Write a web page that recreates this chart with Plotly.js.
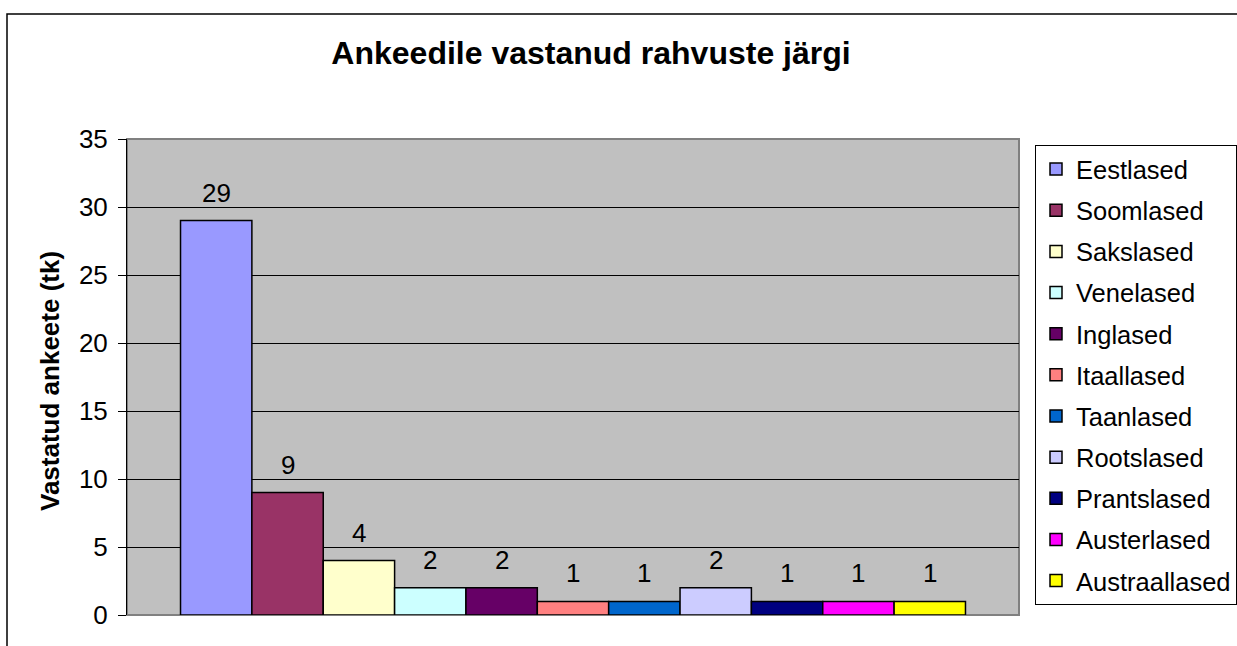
<!DOCTYPE html>
<html>
<head>
<meta charset="utf-8">
<script src="https://cdn.plot.ly/plotly-3.0.1.min.js"></script>
<style>
  html, body { margin: 0; padding: 0; background: #fff; }
  #chart { width: 1237px; height: 646px; }
</style>
</head>
<body>
<div id="chart"></div>
<script>
// ---- data ----
const nationalities = ["Eestlased", "Soomlased", "Sakslased", "Venelased", "Inglased",
  "Itaallased", "Taanlased", "Rootslased", "Prantslased", "Austerlased", "Austraallased"];
const counts = [29, 9, 4, 2, 2, 1, 1, 2, 1, 1, 1];
const colors = ["#9999FF", "#993366", "#FFFFCC", "#CCFFFF", "#660066",
  "#FF8080", "#0066CC", "#CCCCFF", "#000080", "#FF00FF", "#FFFF00"];
const yTicks = [0, 5, 10, 15, 20, 25, 30, 35];
const chartTitle = "Ankeedile vastanud rahvuste järgi";
const yTitle = "Vastatud ankeete (tk)";

// ---- layout geometry ----
const W = 1237, H = 646;
const mL = 127, mR = W - 1019, mT = 139, mB = H - 615;
const pw = W - mL - mR, ph = H - mT - mB;
const px = v => (v - mL) / pw;          // pixel x -> paper x
const py = v => (H - mB - v) / ph;      // pixel y -> paper y

const FONT = "Liberation Sans, Arial, Helvetica, sans-serif";
const FS = 26;

const traces = nationalities.map((name, i) => ({
  type: "bar",
  name: name,
  x: [i],
  y: [counts[i]],
  width: 1,
  legendgroup: "g" + i,
  marker: { color: colors[i], line: { color: "#000", width: 1.5 } },
  hoverinfo: "name+y"
}));

const annotations = counts.map((v, i) => ({
  x: i, y: v, xref: "x", yref: "y",
  text: String(v), showarrow: false,
  yanchor: "middle", yshift: 28,
  font: { family: FONT, size: FS, color: "#000" }
}));

annotations.push({
  xref: "paper", yref: "paper",
  x: px(50), y: py(381),
  text: "<b>" + yTitle + "</b>", textangle: -90,
  showarrow: false, xanchor: "center", yanchor: "middle",
  font: { family: FONT, size: FS, color: "#000" }
});

const layout = {
  width: W, height: H,
  margin: { l: mL, r: mR, t: mT, b: mB, pad: 0, autoexpand: false },
  paper_bgcolor: "#fff",
  plot_bgcolor: "#C0C0C0",
  font: { family: FONT, size: FS, color: "#000" },
  title: {
    text: "<b>" + chartTitle + "</b>",
    x: 591 / W, xref: "container", xanchor: "center",
    y: 1 - 53 / H, yref: "container", yanchor: "middle",
    font: { family: FONT, size: 32, color: "#000" }
  },
  barmode: "overlay",
  xaxis: {
    range: [-1.25, nationalities.length + 0.25],
    showticklabels: false, showgrid: false, zeroline: false,
    showline: false, ticks: "", fixedrange: true
  },
  yaxis: {
    range: [0, 35],
    tickvals: yTicks,
    ticktext: yTicks.map(String),
    showgrid: true, gridcolor: "#000", gridwidth: 1,
    zeroline: false,
    showline: true, linecolor: "#000", linewidth: 1,
    ticks: "outside", ticklen: 8, tickcolor: "#000", tickwidth: 1,
    ticklabelstandoff: 5,
    tickfont: { family: FONT, size: FS, color: "#000" },
    fixedrange: true
  },
  legend: {
    x: px(1035), y: py(145), xanchor: "left", yanchor: "top",
    xref: "paper", yref: "paper",
    bgcolor: "#fff", bordercolor: "#000", borderwidth: 1,
    font: { family: FONT, size: 25.5, color: "#000" },
    traceorder: "grouped", tracegroupgap: 5,
    itemclick: false, itemdoubleclick: false
  },
  shapes: [
    { type: "rect", xref: "paper", yref: "paper", x0: 0, x1: 1, y0: 0, y1: 1,
      line: { color: "#808080", width: 2 }, layer: "between" },
    { type: "path", xref: "paper", yref: "paper",
      path: "M " + px(7) + "," + py(700) + " L " + px(7) + "," + py(14) + " L " + px(1300) + "," + py(14),
      line: { color: "#000", width: 1.5 } }
  ],
  annotations: annotations,
  showlegend: true
};

Plotly.newPlot("chart", traces, layout, { displayModeBar: false, staticPlot: true });
</script>
</body>
</html>
